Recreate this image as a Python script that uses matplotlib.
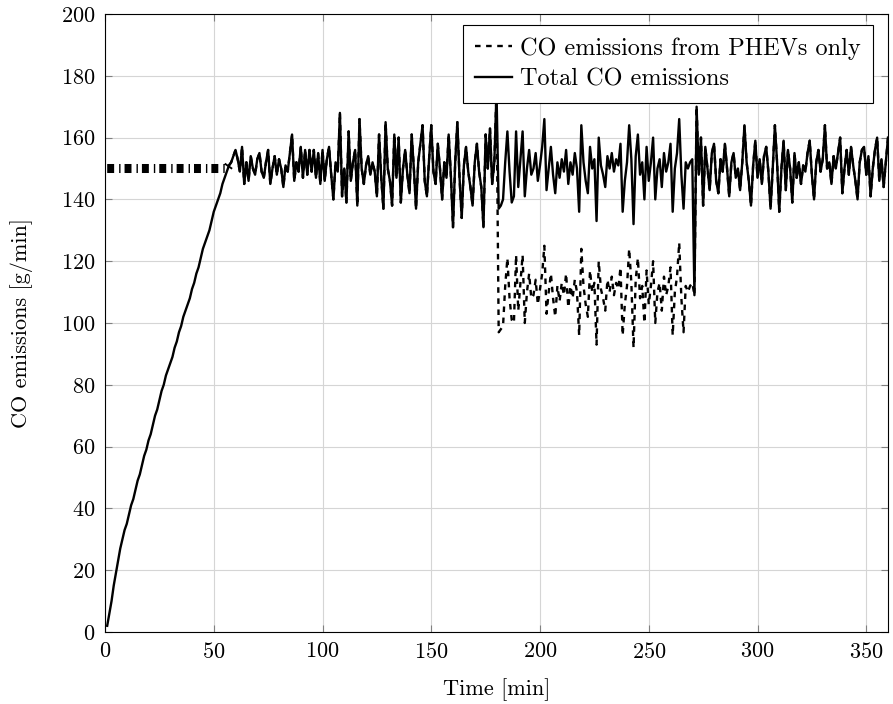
import numpy as np
import matplotlib
matplotlib.use("Agg")
import matplotlib.pyplot as plt

plt.rcParams['font.family'] = 'serif'
plt.rcParams['font.serif'] = ['cmr10', 'DejaVu Serif']
plt.rcParams['axes.formatter.use_mathtext'] = True
plt.rcParams['font.size'] = 16
plt.rcParams['lines.scale_dashes'] = False

# time in minutes, one sample per minute
time = np.arange(1, 361)

# total CO emissions [g/min]
total = [
    2, 6, 10, 15, 19, 23, 27, 30, 33, 35,
    38, 41, 43, 46, 49, 51, 54, 57, 59, 62,
    64, 67, 70, 72, 75, 78, 80, 83, 85, 87,
    89, 92, 94, 97, 99, 102, 104, 106, 108, 111,
    113, 116, 118, 121, 124, 126, 128, 130, 133, 136,
    138, 140, 142, 145, 147, 149, 151, 152, 154, 156,
    153, 149, 157, 145, 152, 146, 154, 150, 148, 153,
    155, 149, 147, 152, 156, 145, 150, 154, 148, 153,
    150, 144, 151, 149, 155, 161, 146, 152, 149, 157,
    147, 156, 148, 156, 149, 156, 147, 155, 145, 156,
    146, 153, 157, 148, 140, 152, 149, 168, 141, 150,
    139, 162, 146, 152, 156, 138, 166, 150, 145, 151,
    154, 148, 152, 149, 141, 161, 147, 137, 165, 150,
    146, 138, 161, 147, 160, 139, 150, 156, 148, 142,
    161, 150, 137, 152, 158, 164, 146, 141, 153, 164,
    149, 145, 158, 150, 140, 152, 147, 161, 148, 131,
    152, 165, 147, 134, 151, 157, 149, 144, 138, 152,
    158, 149, 144, 131, 161, 150, 163, 145, 152, 175,
    137, 138, 140, 152, 162, 149, 139, 141, 162, 144,
    153, 162, 141, 150, 156, 148, 150, 155, 146, 151,
    157, 166, 143, 150, 157, 148, 142, 152, 147, 153,
    149, 156, 145, 152, 148, 155, 150, 136, 164, 152,
    146, 142, 157, 150, 153, 133, 160, 151, 148, 144,
    154, 150, 155, 149, 153, 151, 158, 136, 146, 152,
    164, 153, 132, 154, 161, 148, 152, 140, 157, 146,
    152, 160, 140, 150, 153, 144, 155, 149, 152, 158,
    136, 150, 155, 166, 148, 137, 152, 150, 152, 153,
    109, 170, 148, 160, 138, 157, 150, 143, 155, 158,
    146, 142, 153, 149, 158, 150, 141, 152, 155, 147,
    150, 143, 152, 164, 152, 146, 138, 151, 159, 147,
    153, 145, 154, 157, 149, 137, 150, 164, 152, 136,
    150, 159, 143, 156, 150, 139, 155, 147, 152, 145,
    151, 149, 155, 159, 148, 140, 152, 156, 149, 153,
    164, 150, 152, 145, 154, 150, 155, 160, 142, 150,
    156, 148, 157, 151, 146, 140, 152, 156, 157, 148,
    154, 141, 150, 156, 160, 146, 153, 144, 152, 160,
]

# PHEV-only emissions where they differ from the total
phev_start = [150] * 56          # t = 1..56
phev_mid = [                     # t = 181..271
    97, 98, 99, 112, 121, 108, 101, 100, 122, 104,
    113, 122, 100, 110, 116, 108, 109, 114, 106, 111,
    116, 125, 103, 110, 116, 108, 102, 112, 107, 113,
    109, 116, 105, 112, 108, 114, 110, 96, 124, 112,
    106, 102, 117, 110, 113, 93, 120, 111, 108, 104,
    114, 110, 115, 109, 113, 111, 118, 96, 106, 112,
    124, 113, 92, 114, 121, 108, 112, 100, 117, 106,
    112, 120, 100, 110, 113, 104, 115, 109, 112, 118,
    96, 110, 115, 126, 108, 97, 112, 110, 112, 113,
    109,
]
phev = phev_start + total[56:180] + phev_mid + total[271:]

fig = plt.figure(figsize=(8.93, 7.04), dpi=100)
ax = fig.add_axes([0.1176, 0.1023, 0.8768, 0.8778])

# thick pattern on the flat start of the PHEV curve
ax.plot(time[:57], phev[:57], color='k', lw=6.5, dash_capstyle='butt',
        dashes=(5.0, 3.6, 1.0, 2.9))
ax.plot(time[56:], phev[56:], color='k', lw=1.7, dashes=(4, 4),
        dash_capstyle='butt', label='CO emissions from PHEVs only')
ax.plot(time, total, color='k', lw=1.7, label='Total CO emissions')

ax.set_xlim(0, 360)
ax.set_ylim(0, 200)
ax.set_xticks(np.arange(0, 351, 50))
ax.set_yticks(np.arange(0, 201, 20))
ax.grid(True, color='#d5d5d5', lw=0.8)
ax.set_axisbelow(True)
ax.tick_params(direction='in', length=5, width=0.8, color='#808080',
               top=True, right=True, pad=7)
for s in ax.spines.values():
    s.set_linewidth(0.8)

ax.set_xlabel('Time [min]', labelpad=12)
ax.set_ylabel('CO emissions [g/min]', labelpad=20)

leg = ax.legend(loc='upper right', bbox_to_anchor=(0.981, 0.982),
                borderaxespad=0, fontsize=17.5, fancybox=False,
                framealpha=1, edgecolor='k', handlelength=1.5,
                handletextpad=0.35, borderpad=0.5, labelspacing=0.35)
leg.get_frame().set_linewidth(0.8)

fig.savefig('out.png', dpi=100)
